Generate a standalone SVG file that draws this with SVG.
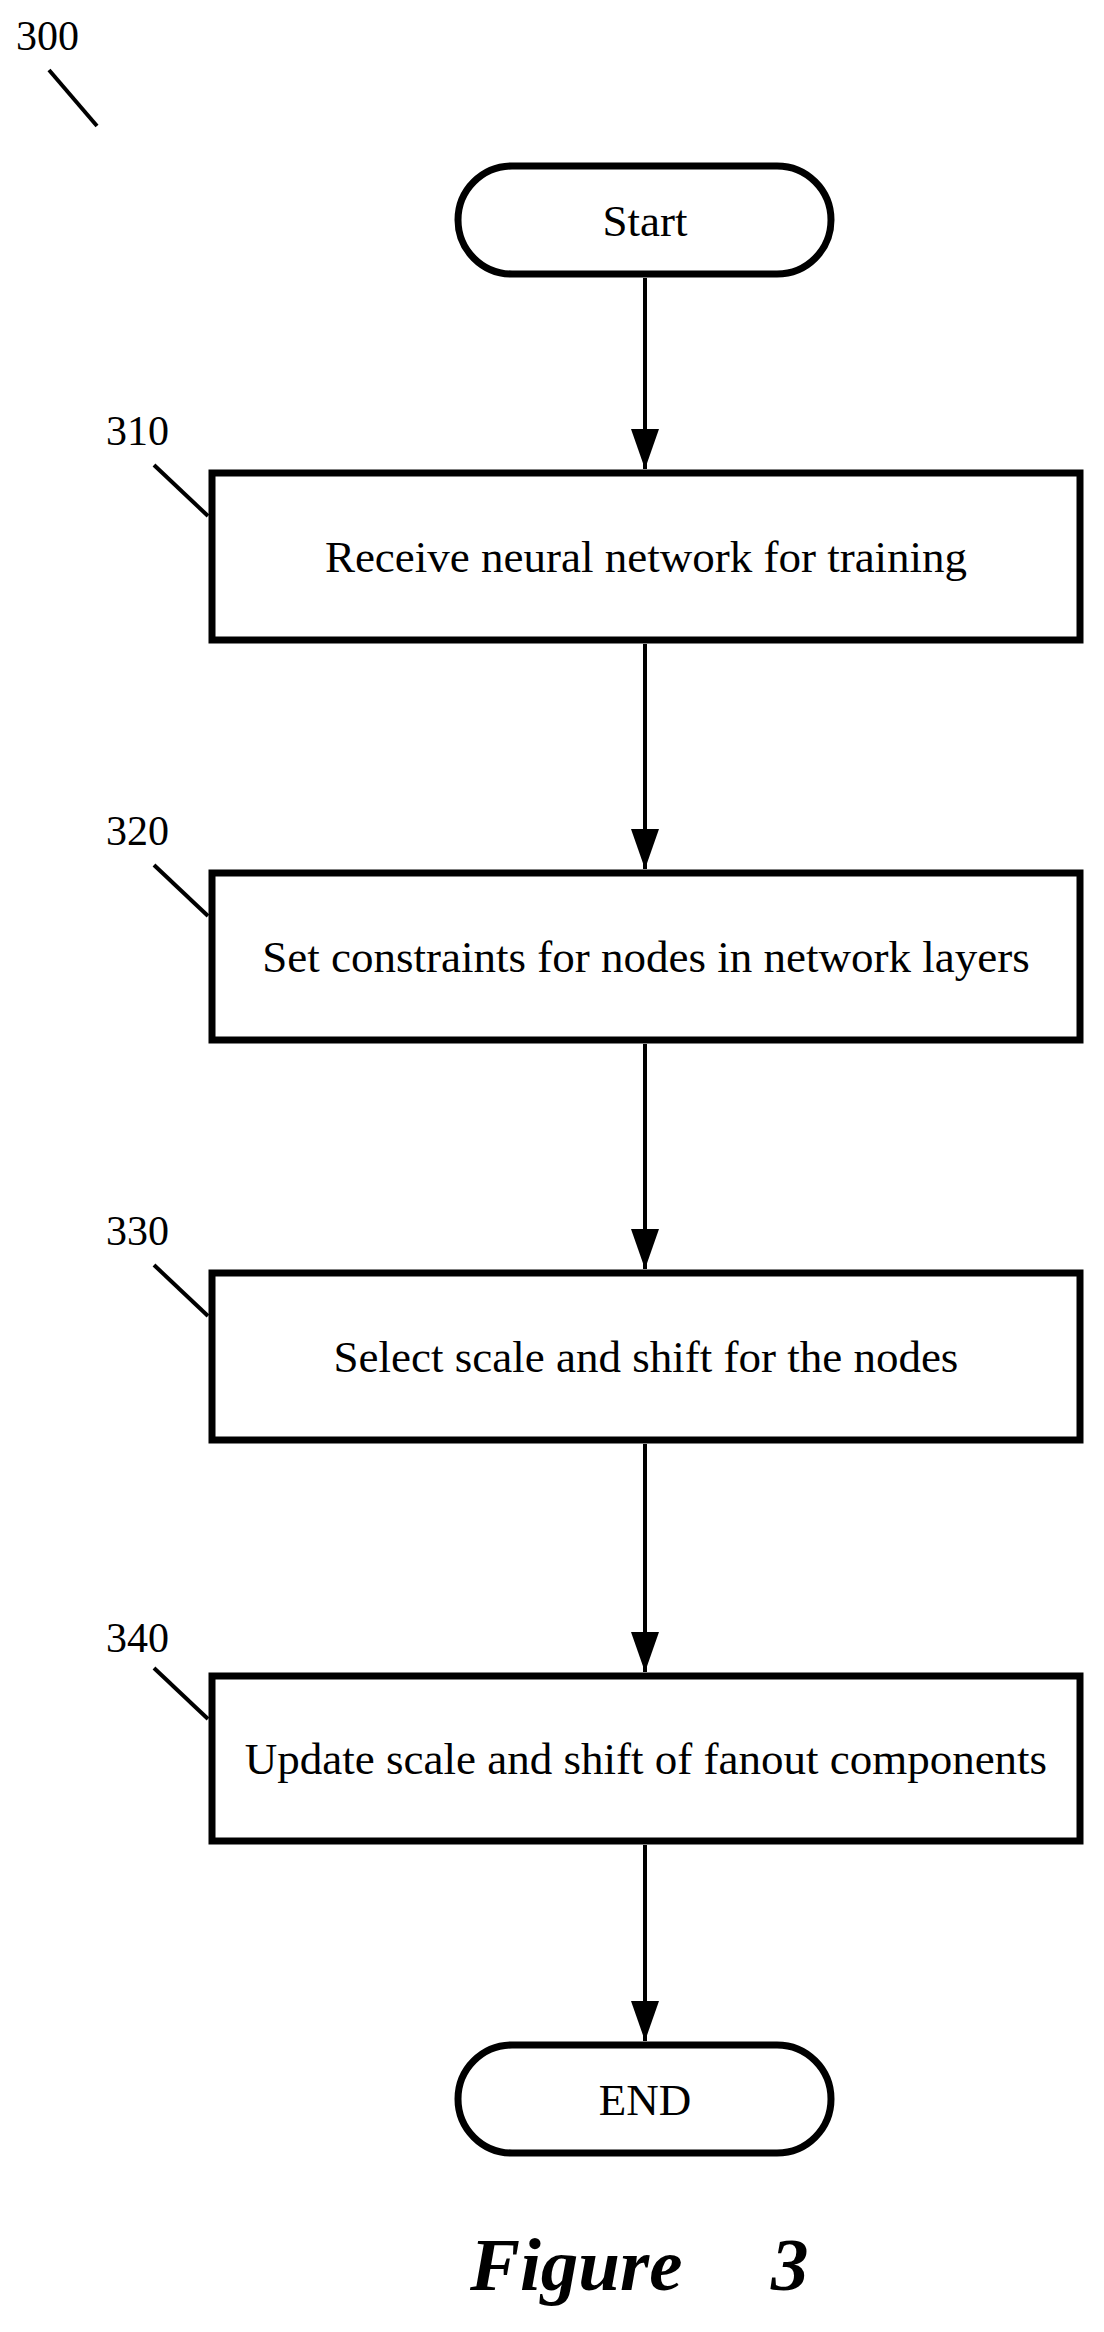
<svg xmlns="http://www.w3.org/2000/svg" width="1104" height="2332" viewBox="0 0 1104 2332">
<style>
.b{fill:#fff;stroke:#000;stroke-width:7}
.t{font-family:"Liberation Serif",serif;font-size:45px;text-anchor:middle;fill:#000}
.l{font-family:"Liberation Serif",serif;font-size:42px;fill:#000}
.c{stroke:#000;stroke-width:4;fill:none}
.ld{stroke:#000;stroke-width:4}
.f{font-family:"Liberation Serif",serif;font-size:75px;font-weight:bold;font-style:italic;fill:#000}
</style>
<defs><marker id="a" markerWidth="10" markerHeight="7" refX="10" refY="3.5" orient="auto" markerUnits="strokeWidth" viewBox="0 0 10 7"><path d="M0,0 L10,3.5 L0,7 Z" fill="#000"/></marker></defs>
<rect width="1104" height="2332" fill="#fff"/>
<g id="n300"><text class="l" x="16" y="50">300</text><line class="ld" x1="49" y1="70" x2="97" y2="126"/></g>
<g id="start"><rect class="b" x="458" y="166" width="373" height="108" rx="54"/><text class="t" x="645" y="236">Start</text></g>
<g id="n310"><rect class="b" x="212" y="473" width="868" height="167"/><text class="t" x="646" y="572">Receive neural network for training</text><text class="l" x="106" y="445">310</text><line class="ld" x1="154" y1="465" x2="208" y2="516"/></g>
<g id="n320"><rect class="b" x="212" y="873" width="868" height="167"/><text class="t" x="646" y="972">Set constraints for nodes in network layers</text><text class="l" x="106" y="845">320</text><line class="ld" x1="154" y1="865" x2="208" y2="916"/></g>
<g id="n330"><rect class="b" x="212" y="1273" width="868" height="167"/><text class="t" x="646" y="1372">Select scale and shift for the nodes</text><text class="l" x="106" y="1245">330</text><line class="ld" x1="154" y1="1265" x2="208" y2="1316"/></g>
<g id="n340"><rect class="b" x="212" y="1676" width="868" height="165"/><text class="t" x="646" y="1774">Update scale and shift of fanout components</text><text class="l" x="106" y="1652">340</text><line class="ld" x1="154" y1="1668" x2="208" y2="1719"/></g>
<g id="end"><rect class="b" x="458" y="2045" width="373" height="108" rx="54"/><text class="t" x="645" y="2115">END</text></g>
<g id="connectors">
<line class="c" x1="645" y1="278" x2="645" y2="469" marker-end="url(#a)"/>
<line class="c" x1="645" y1="644" x2="645" y2="869" marker-end="url(#a)"/>
<line class="c" x1="645" y1="1044" x2="645" y2="1269" marker-end="url(#a)"/>
<line class="c" x1="645" y1="1444" x2="645" y2="1672" marker-end="url(#a)"/>
<line class="c" x1="645" y1="1845" x2="645" y2="2041" marker-end="url(#a)"/>
</g>
<g id="caption"><text class="f" x="470" y="2290">Figure</text><text class="f" x="771" y="2290">3</text></g>
</svg>
